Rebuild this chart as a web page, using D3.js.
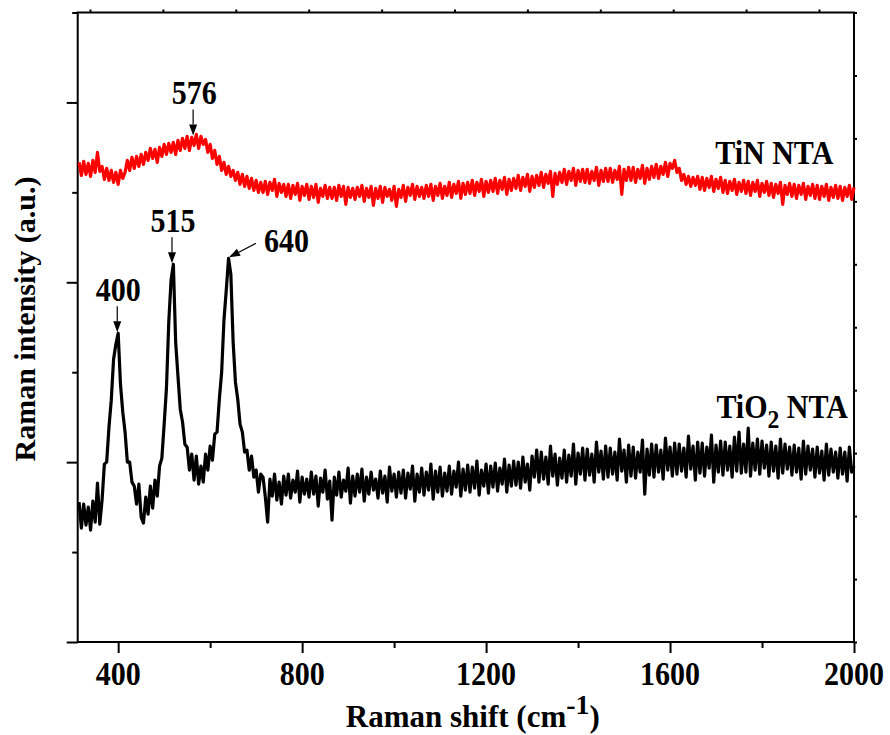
<!DOCTYPE html>
<html><head><meta charset="utf-8">
<script src="https://cdn.jsdelivr.net/npm/d3@7"></script>
<style>body{margin:0;background:#fff}svg text{font-family:"Liberation Serif","Times New Roman",serif;font-weight:bold}</style>
</head><body>
<svg id="c" width="890" height="735"></svg>
<script>
// ---------------- data ----------------
const wavenumberStart = 315, wavenumberStep = 5;   // cm-1 sampling of both spectra
const tio2Intensity = [
140,114,138,117,135,112,141,120,159,118,
142,178,180,215,242,283,298,309,258,230,
210,180,180,160,156,138,158,125,119,145,
128,156,134,162,146,176,184,218,254,320,
362,378,300,266,233,220,198,195,172,188,
162,186,158,176,160,188,172,196,182,208,
210,243,270,322,352,384,368,300,260,243,
218,210,190,192,172,186,165,172,150,168,
165,145,120,163,146,168,142,160,138,166,
147,168,144,162,150,171,140,165,148,163,
145,170,148,166,136,164,150,172,143,161,
122,165,147,170,145,162,151,174,139,166,
146,168,150,173,141,165,148,170,152,163,
144,171,149,166,140,175,151,168,145,170,
149,172,144,169,153,176,141,168,150,174,
147,170,152,178,143,171,150,175,146,169,
151,176,148,171,155,180,146,173,152,177,
150,175,154,181,147,172,156,178,149,176,
155,179,151,174,158,183,150,177,156,181,
157,180,154,185,160,178,152,186,165,192,
160,190,163,185,158,196,166,188,157,184,
164,192,160,187,166,198,158,189,168,194,
162,193,167,188,160,200,170,191,163,196,
165,194,168,190,162,203,171,192,160,197,
166,195,164,190,170,202,148,193,167,198,
165,197,170,192,163,204,172,195,166,199,
168,198,171,194,165,206,173,196,162,200,
169,199,166,195,174,207,160,197,170,201,
167,200,172,196,165,205,171,210,169,198,
170,214,166,199,172,203,168,201,174,197,
166,200,171,196,164,203,169,198,173,195,
167,197,170,194,163,201,168,196,172,193,
165,195,169,191,162,198,167,193,170,190,
164,194,168,190,161,195,170,176
];
const tinIntensity = [
480,467,481,468,479,466,482,470,490,471,
476,463,474,462,472,460,470,458,472,464,
470,482,472,485,474,486,476,488,478,490,
482,494,484,493,480,495,486,498,488,499,
490,500,488,502,492,504,494,506,492,505,
497,508,494,506,498,503,490,498,484,492,
478,486,472,480,468,476,466,472,462,470,
458,468,456,466,454,464,452,462,450,460,
450,461,448,460,452,463,446,459,450,458,
446,458,444,457,448,459,442,456,447,458,
443,456,445,458,440,454,446,457,444,455,
444,455,442,457,446,456,438,455,445,454,
443,455,446,457,441,454,445,456,437,454,
444,456,440,455,446,453,442,456,436,453,
445,457,441,455,447,458,443,456,446,455,
444,457,446,458,442,456,447,459,444,456,
447,460,445,458,449,461,444,459,448,460,
449,462,447,460,451,463,446,461,450,462,
451,464,449,462,453,465,448,463,452,464,
454,467,452,465,456,468,451,466,455,467,
457,470,455,468,459,471,446,469,458,470,
460,473,458,471,462,474,457,472,461,473,
460,473,459,471,462,475,457,472,461,474,
461,474,460,472,463,476,448,473,462,475,
462,475,460,473,464,477,459,474,463,476,
465,478,464,476,468,480,466,479,474,482,
470,474,462,468,458,466,456,465,457,466,
453,465,452,464,455,466,451,463,454,465,
450,462,449,461,452,463,448,460,451,462,
449,461,447,460,451,462,446,459,450,461,
447,459,445,458,449,460,438,457,448,459,
446,458,444,457,448,459,443,456,447,458,
444,457,443,456,446,458,442,455,445,457,
444,456,442,455,446,457,443,455
];
const xTickMajor = [400, 800, 1200, 1600, 2000];
const xTickMinor = [600, 1000, 1400, 1800];
const yTickMajor = [0, 180, 360, 540];
const yTickMinor = [90, 270, 450, 630];
const peakLabels = ["400", "515", "640", "576"];
const peakWavenumbers = [398, 517, 641, 563];
const peakTipIntensity = [310, 379, 385, 507];
const seriesNames = ["TiN NTA", "TiO"];

// ---------------- layout ----------------
const L = 77.7, R = 854, T = 12.5, B = 642;
const svg = d3.select("#c");
const x = d3.scaleLinear().domain([312, 2000]).range([L, R]);
const y = d3.scaleLinear().domain([0, 630]).range([B, T]);
const FONT = 33, SX = 0.91;

// horizontally condensed text helper
function label(px, py, anchor, size){
  return svg.append("text")
    .attr("transform",`translate(${px},${py}) scale(${SX},1)`)
    .attr("text-anchor",anchor).attr("font-size",size);
}
function styleAxis(g){
  g.selectAll("path.domain").remove();
  g.selectAll("line").attr("stroke","#000").attr("stroke-width",2);
}
// bottom axis
svg.append("g").attr("transform",`translate(0,${B})`)
  .call(d3.axisBottom(x).tickValues(xTickMajor).tickSize(11).tickSizeOuter(0).tickFormat(""))
  .call(styleAxis);
svg.append("g").attr("transform",`translate(0,${B})`)
  .call(d3.axisBottom(x).tickValues(xTickMinor).tickSize(6).tickSizeOuter(0).tickFormat(""))
  .call(styleAxis);
xTickMajor.forEach(d=>label(x(d), B+42.5, "middle", FONT).text(d));
// left axis
svg.append("g").attr("transform",`translate(${L},0)`)
  .call(d3.axisLeft(y).tickValues(yTickMajor).tickSize(11).tickSizeOuter(0).tickFormat(""))
  .call(styleAxis);
svg.append("g").attr("transform",`translate(${L},0)`)
  .call(d3.axisLeft(y).tickValues(yTickMinor).tickSize(5.5).tickSizeOuter(0).tickFormat(""))
  .call(styleAxis);
// right axis
svg.append("g").attr("transform",`translate(${R},0)`)
  .call(d3.axisRight(y).tickValues(d3.range(0, 631, 63)).tickSize(3).tickSizeOuter(0).tickFormat(""))
  .call(styleAxis);
// top axis (secondary small ticks)
const xTop = d3.scaleLinear().domain([0, 10.48]).range([90, 854]);
svg.append("g").attr("transform",`translate(0,${T})`)
  .call(d3.axisTop(xTop).tickValues(d3.range(0, 10.5, 1)).tickSize(3).tickSizeOuter(0).tickFormat(""))
  .call(styleAxis);
// frame
svg.append("rect").attr("x",L).attr("y",T).attr("width",R-L).attr("height",B-T)
  .attr("fill","none").attr("stroke","#000").attr("stroke-width",2);

// ---------------- spectra ----------------
const line = d3.line()
  .x((d,i)=>x(wavenumberStart + i*wavenumberStep))
  .y(d=>y(d));
svg.append("path").datum(tinIntensity).attr("d",line)
  .attr("fill","none").attr("stroke","#ff0000").attr("stroke-width",3.2).attr("stroke-linejoin","round");
svg.append("path").datum(tio2Intensity).attr("d",line)
  .attr("fill","none").attr("stroke","#000").attr("stroke-width",3.2).attr("stroke-linejoin","round");

// ---------------- annotations ----------------
function arrow(x1,y1,x2,y2){
  const ang = Math.atan2(y2-y1, x2-x1), hl = 11, hw = 4;
  const bx = x2 - hl*Math.cos(ang), by = y2 - hl*Math.sin(ang);
  svg.append("line").attr("x1",x1).attr("y1",y1).attr("x2",bx).attr("y2",by)
    .attr("stroke","#000").attr("stroke-width",1.2);
  const px = -Math.sin(ang)*hw, py = Math.cos(ang)*hw;
  svg.append("polygon")
    .attr("points",`${x2},${y2} ${bx+px},${by+py} ${bx-px},${by-py}`)
    .attr("fill","#000");
}
peakLabels.forEach((lab,i)=>{
  const tx = x(peakWavenumbers[i]), ty = y(peakTipIntensity[i]);
  if (lab === "640") {
    arrow(tx+27, ty-14, tx, ty);
    label(tx+35, ty-5, "start", FONT).text(lab);
  } else {
    arrow(tx, ty-26, tx, ty);
    label(tx+1, ty-31, "middle", FONT).text(lab);
  }
});

// series labels
label(x(1955), y(478), "end", FONT).text(seriesNames[0]);
const t2 = label(x(1987), y(224), "end", FONT);
t2.append("tspan").text(seriesNames[1]);
t2.append("tspan").attr("font-size",26).attr("dy",10).text("2");
t2.append("tspan").attr("dy",-10).text("\u00A0NTA");

// axis titles
const xt = svg.append("text").attr("x",(L+R)/2+7).attr("y",727).attr("text-anchor","middle").attr("font-size",31);
xt.append("tspan").text("Raman shift (cm");
xt.append("tspan").attr("font-size",28).attr("dy",-13).text("-1");
xt.append("tspan").attr("dy",13).text(")");
svg.append("text").attr("transform",`translate(35,${(175+463)/2}) rotate(-90)`)
  .attr("text-anchor","middle").attr("font-size",30).text("Raman intensity (a.u.)");
</script>
</body></html>
